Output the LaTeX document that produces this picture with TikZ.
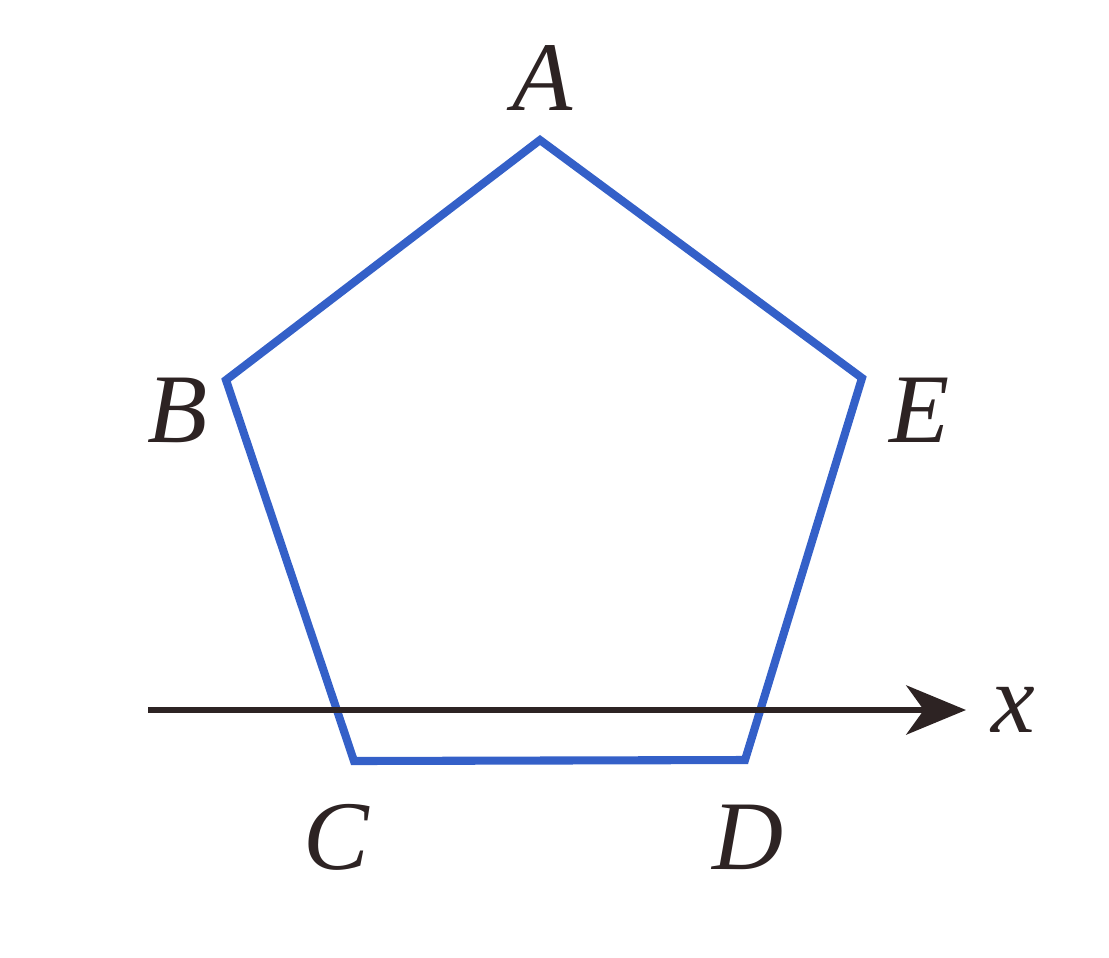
\documentclass[tikz,border=0pt]{standalone}
\usepackage{fontspec}
\setmainfont{Liberation Serif}
\usepackage{xcolor}
\usetikzlibrary{arrows.meta,positioning}
\definecolor{edgeblue}{RGB}{52,96,200}
\definecolor{axisdark}{RGB}{45,35,35}

\begin{document}
\begin{tikzpicture}[
  vertex/.style={inner sep=0pt,font=\fontsize{28}{33}\selectfont\itshape,text=axisdark},
  side/.style={line width=2.3pt,color=edgeblue,line join=miter},
  axis/.style={-{Stealth[length=17pt,width=14pt,inset=5pt]},line width=1.7pt,color=axisdark}
]
\useasboundingbox (0,0) rectangle (11.09,9.57);
% pentagon corners
\coordinate (a) at (5.40,8.17);
\coordinate (b) at (2.26,5.77);
\coordinate (c) at (3.54,1.96);
\coordinate (d) at (7.45,1.97);
\coordinate (e) at (8.62,5.79);
\draw[side] (a)--(b)--(c)--(d)--(e)--cycle;
% x axis
\coordinate (xstart) at (1.48,2.47);
\coordinate (xend) at (9.66,2.47);
\draw[axis] (xstart)--(xend);
% labels
\node[vertex] (labA) at (5.43,8.79) {A};
\node[vertex] (labB) at (1.78,5.47) {B};
\node[vertex] (labC) at (3.36,1.20) {C};
\node[vertex] (labD) at (7.48,1.20) {D};
\node[vertex] (labE) at (9.20,5.47) {E};
\node[vertex,right=0.25cm of xend] (labx) {x};
\end{tikzpicture}
\end{document}
